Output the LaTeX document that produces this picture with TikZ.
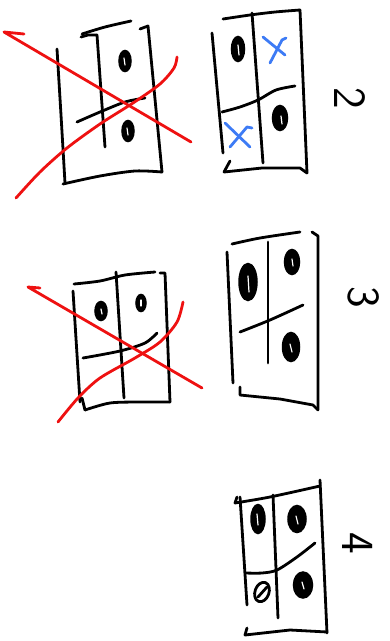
\documentclass[tikz,border=0pt]{standalone}
\begin{document}
\begin{tikzpicture}[x=1pt,y=-1pt,
  ink/.style={line width=2.8pt, line cap=round, line join=round},
  redink/.style={ink, color=sketchred},
  blueink/.style={ink, color=sketchblue},
  blob/.style={fill=black, draw=black, line width=1.5pt},
  hole/.style={white, line width=1.2pt, line cap=round},
  digit/.style={font=\sffamily\fontsize{46}{46}\selectfont, rotate=-90, inner sep=0pt}]
\definecolor{sketchred}{HTML}{EE1111}
\definecolor{sketchblue}{HTML}{3D7BF5}
\useasboundingbox (0,0) rectangle (390,641);

% ---------- panel 1 (crossed out) ----------
\draw[ink] plot[smooth] coordinates {(57,49) (61,115) (65,183)};
\draw[ink] plot[smooth] coordinates {(63,184) (100,176) (135,171) (162,172)};
\draw[ink] (140,29) -- (148,26) -- (162,172);
\draw[ink] (81,37) -- (88,35) -- (97,35);
\draw[ink] plot[smooth] coordinates {(82,34) (105,27) (131,21)};
\draw[ink] (97,35) -- (105,147);
\draw[ink] plot[smooth] coordinates {(77,122) (100,112) (125,102) (145,98)};
\fill[blob] (125,61) ellipse [x radius=6, y radius=10.5];
\draw[hole] (124,58) -- (125,65);
\fill[blob] (128,131) ellipse [x radius=6, y radius=10.5];
\draw[hole] (127,128) -- (128,135);
\draw[redink] (24,34) -- (4,32) -- (191,142);
\draw[redink] plot[smooth] coordinates {(16,198) (40,172) (67,148) (100,124) (133,103) (160,84) (174,68) (177,57)};

% ---------- panel 2 ----------
\draw[ink] plot[smooth] coordinates {(223,19) (250,15) (275,12) (300,10)};
\draw[ink] (212,33) -- (223,153);
\draw[ink] (300,10) -- (307,173);
\draw[ink] (230,161) -- (224,172) -- (262,168) -- (300,168) -- (307,173);
\draw[ink] (252,13) -- (263,163);
\draw[ink] plot[smooth] coordinates {(222,112) (240,107) (258,100) (276,90) (295,86)};
\fill[blob] (238,49) ellipse [x radius=6.5, y radius=12.5];
\draw[hole] (238,45) -- (239,55);
\fill[blob] (280,118) ellipse [x radius=7.5, y radius=12.5];
\draw[hole] (281,116) -- (282,124);
\draw[blueink] (263,37) -- (285,55);
\draw[blueink] (270,63) -- (282,40) -- (286,38);
\draw[blueink] (225,123) -- (250,147);
\draw[blueink] (230,147) -- (247,127) -- (252,128);
\node[digit] (n2) at (350,98) {2};

% ---------- panel 3 left (crossed out) ----------
\draw[ink] plot[smooth] coordinates {(74,284) (100,281) (125,275) (155,272)};
\draw[ink] (73,291) -- (80,402);
\draw[ink] (160,273) -- (165,273) -- (170,402);
\draw[ink] (82,398) -- (85,410);
\draw[ink] plot[smooth] coordinates {(85,410) (110,403) (140,402) (170,402)};
\draw[ink] (116,272) -- (124,398);
\draw[ink] plot[smooth] coordinates {(83,358) (120,351) (145,343) (157,333)};
\fill[blob] (101,311) ellipse [x radius=6, y radius=9.5];
\draw[hole] (101,309) -- (102,314);
\fill[blob] (141,303) ellipse [x radius=5, y radius=8.5];
\draw[hole] (141,300) -- (141,306);
\draw[redink] (40,288) -- (28,287) -- (202,388);
\draw[redink] plot[smooth] coordinates {(58,422) (78,398) (100,378) (135,358) (160,342) (177,322) (183,302)};

% ---------- panel 3 right ----------
\draw[ink] plot[smooth] coordinates {(232,244) (260,238) (300,232)};
\draw[ink] (227,252) -- (233,383);
\draw[ink] (312,232) -- (318,236) -- (318,410);
\draw[ink] (240,387) -- (240,395) -- (280,399) -- (313,405) -- (318,410);
\draw[ink] (268,242) -- (268,363);
\draw[ink] plot[smooth] coordinates {(240,332) (270,320) (303,305)};
\fill[blob] (248,282) ellipse [x radius=9, y radius=18.5];
\draw[hole] (248,276) -- (249,292);
\fill[blob] (292,262) ellipse [x radius=7.5, y radius=12.5];
\draw[hole] (292,259) -- (293,266);
\fill[blob] (291,347) ellipse [x radius=8.5, y radius=14.5];
\draw[hole] (290,344) -- (292,352);
\node[digit] (n3) at (364,297) {3};

% ---------- panel 4 ----------
\draw[ink] (237,497) -- (235,503);
\draw[ink] plot[smooth] coordinates {(235,503) (270,497) (320,486)};
\draw[ink] (240,497) -- (247,605);
\draw[ink] (320,480) -- (327,633);
\draw[ink] (247,628) -- (245,635) -- (290,630) -- (327,632);
\draw[ink] (273,495) -- (278,618);
\draw[ink] plot[smooth] coordinates {(245,573) (262,573) (277,570) (297,557) (315,543)};
\fill[blob] (258,519) ellipse [x radius=7, y radius=14.5];
\draw[hole] (257,514) -- (258,525);
\fill[blob] (297,519) ellipse [x radius=9, y radius=13.5];
\draw[hole] (296,516) -- (298,524);
\draw[ink, rotate around={-20:(262,592)}] (262,592) ellipse [x radius=7, y radius=10];
\draw[ink] (258,597) -- (267,587);
\fill[blob] (303,585) ellipse [x radius=9.5, y radius=13];
\draw[hole] (302,582) -- (304,589);
\node[digit] (n4) at (358,543) {4};
\end{tikzpicture}
\end{document}
